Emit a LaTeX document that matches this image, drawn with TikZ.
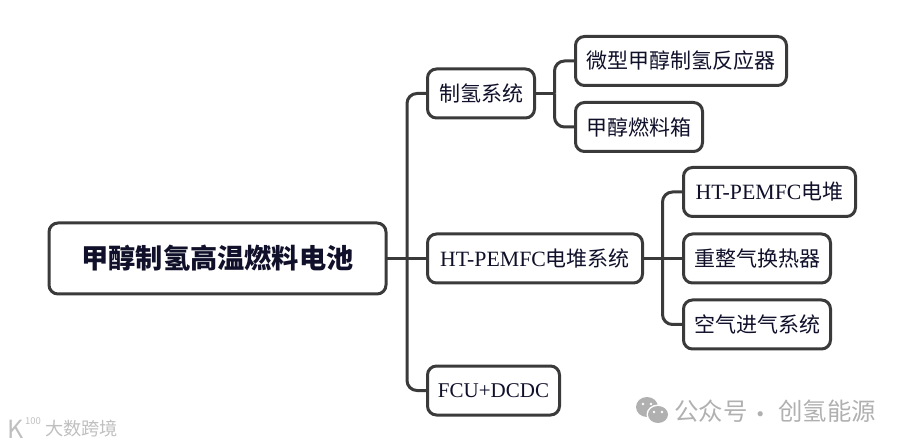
\documentclass[tikz,border=0pt]{standalone}
\usepackage{fontspec}
\setmainfont{Liberation Serif}
\newfontfamily\cjk{Noto Sans CJK SC}
\usepackage{xcolor}
\usetikzlibrary{positioning}
\definecolor{linegray}{HTML}{3A3A3A}
\definecolor{inkblue}{HTML}{10102A}
\definecolor{markgray}{HTML}{B0B0B0}

\begin{document}
\begin{tikzpicture}[
  x=1pt, y=1pt,
  box/.style={draw=linegray, line width=3pt, fill=white, rounded corners=9pt, outer sep=0pt, inner sep=0pt, align=center, text=inkblue, font=\fontsize{21}{25}\selectfont, minimum height=49pt},
  rootbox/.style={box, font=\cjk\fontsize{27.2}{31}\bfseries\selectfont, minimum width=337pt, minimum height=71pt},
  link/.style={draw=linegray, line width=3pt, rounded corners=10pt},
  wmark/.style={inner sep=0pt, text=markgray, font=\cjk\fontsize{24.4}{28}\selectfont},
  logomark/.style={wmark, text=gray!50},
  ]
  \useasboundingbox (0,0) rectangle (903,445);

  % Root
  \node[rootbox] (root) at (217.5,186.5) {甲醇制氢高温燃料电池};

  % Second level
  \node[box, right=41.5pt of root, yshift=165pt, minimum width=107pt] (hydrogen) {\cjk 制氢系统};
  \node[box, right=41.5pt of root, minimum width=215pt] (stack) {\fontsize{21.8}{25}\selectfont HT-PEMFC{\cjk\fontsize{21}{25}\selectfont 电堆系统}};
  \node[box, right=41.5pt of root, yshift=-132pt, minimum width=132pt] (fcu) {FCU+DCDC};

  % Children of hydrogen system
  \node[box, right=41pt of hydrogen, yshift=32.5pt, minimum width=211pt] (reactor) {\cjk 微型甲醇制氢反应器};
  \node[box, right=41pt of hydrogen, yshift=-33.5pt, minimum width=127pt] (tank) {\cjk 甲醇燃料箱};

  % Children of stack system
  \node[box, right=41pt of stack, yshift=66.5pt, minimum width=172pt] (pemfc) {\fontsize{21.8}{25}\selectfont HT-PEMFC{\cjk\fontsize{21}{25}\selectfont 电堆}};
  \node[box, right=41pt of stack, minimum width=147pt] (reformer) {\cjk 重整气换热器};
  \node[box, right=41pt of stack, yshift=-66pt, minimum width=147pt] (air) {\cjk 空气进气系统};

  % Connectors
  \coordinate (rootbus) at ([xshift=21pt]root.east);
  \coordinate (hydrogenbus) at ([xshift=20pt]hydrogen.east);
  \coordinate (stackbus) at ([xshift=20pt]stack.east);
  \draw[link] (root.east) -- (stack.west);
  \draw[link] (rootbus) |- (hydrogen.west);
  \draw[link] (rootbus) |- (fcu.west);
  \draw[link] (hydrogen.east) -- (hydrogenbus);
  \draw[link] (hydrogenbus) |- (reactor.west);
  \draw[link] (hydrogenbus) |- (tank.west);
  \draw[link] (stack.east) -- (reformer.west);
  \draw[link] (stackbus) |- (pemfc.west);
  \draw[link] (stackbus) |- (air.west);

  % Watermarks
  \node[wmark, anchor=west] (account) at (674,34) {公众号};
  \node[wmark, anchor=west] (dot) at (748,27) {·};
  \node[wmark, anchor=west] (brand) at (778,34) {创氢能源};
  \fill[markgray] (647,38) ellipse (11pt and 10pt);
  \fill[white] (658,30.5) ellipse (11.5pt and 10pt);
  \fill[markgray] (658,30.5) ellipse (10pt and 8.5pt);
  \fill[white] (643,41) circle (1.4pt) (651,41) circle (1.4pt) (654,33) circle (1.3pt) (662,33) circle (1.3pt);

  \node[logomark, anchor=west, font=\cjk\fontsize{18.2}{22}\selectfont] (site) at (45,16) {大数跨境};
  \node[logomark, anchor=west, font=\cjk\fontsize{25}{28}\selectfont] (logok) at (7,16) {K};
  \node[logomark, anchor=west, font=\cjk\fontsize{9.5}{11}\selectfont] (logonum) at (25,24) {100};
\end{tikzpicture}
\end{document}
